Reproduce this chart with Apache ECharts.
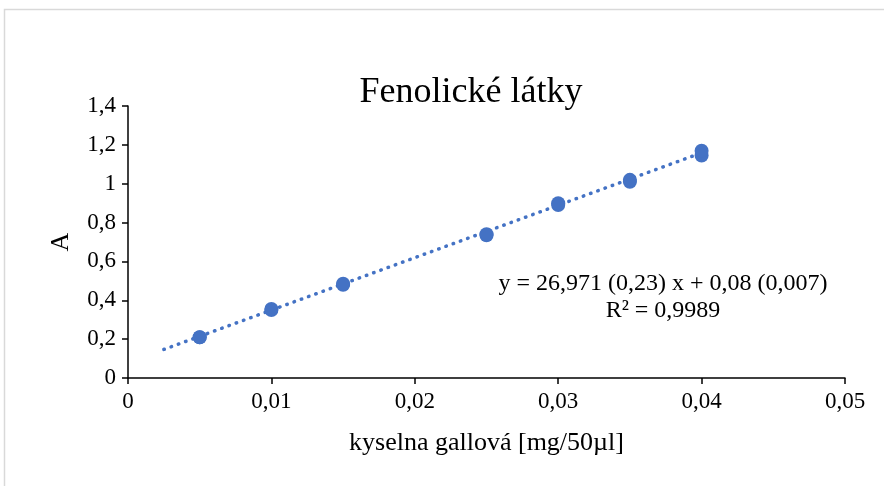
<!DOCTYPE html>
<html>
<head>
<meta charset="utf-8">
<script src="https://cdn.jsdelivr.net/npm/echarts@6/dist/echarts.min.js"></script>
<style>html,body{margin:0;padding:0;background:#fff}#c{width:884px;height:486px}</style>
</head>
<body>
<div id="c"></div>
<script>
// Data
const concentrations = [0.005, 0.005, 0.01, 0.01, 0.015, 0.015, 0.025, 0.025, 0.03, 0.03, 0.035, 0.035, 0.04, 0.04];
const absorbance     = [0.21, 0.21, 0.35, 0.355, 0.48, 0.485, 0.735, 0.74, 0.89, 0.90, 1.01, 1.02, 1.145, 1.17];
const trendX = [0.0025, 0.04];
const trendY = [0.147, 1.159];
const xTicks = [0, 0.01, 0.02, 0.03, 0.04, 0.05];
const yTicks = [0, 0.2, 0.4, 0.6, 0.8, 1, 1.2, 1.4];
const titleText = 'Fenolické látky';
const xName = 'kyselna gallová [mg/50µl]';
const yName = 'A';
const eqLine1 = 'y = 26,971 (0,23) x + 0,08 (0,007)';
const eqLine2 = 'R² = 0,9989';

const FONT = '"Liberation Serif", "Times New Roman", serif';
const BLUE = '#4472C4';
const fmt = v => String(v).replace('.', ',');

const chart = echarts.init(document.getElementById('c'), null, {renderer: 'canvas'});
chart.setOption({
  animation: false,
  backgroundColor: '#fff',
  title: {
    text: titleText, left: 466, top: 70, textAlign: 'center',
    textStyle: {fontFamily: FONT, fontSize: 36, fontWeight: 'normal', color: '#000'}
  },
  grid: {left: 128, right: 39, top: 106, bottom: 108, containLabel: false},
  xAxis: {
    type: 'value', min: 0, max: 0.05, interval: 0.01,
    name: xName, nameLocation: 'middle', nameGap: 52,
    nameTextStyle: {fontFamily: FONT, fontSize: 26, color: '#000'},
    axisLine: {show: true, onZero: false, lineStyle: {color: '#000', width: 1.5}},
    axisTick: {show: true, inside: false, length: 6, lineStyle: {color: '#000', width: 1.5}},
    axisLabel: {fontFamily: FONT, fontSize: 23, color: '#000', margin: 12,
      formatter: v => xTicks.includes(Math.round(v*1000)/1000) ? fmt(Math.round(v*1000)/1000) : ''},
    splitLine: {show: false}
  },
  yAxis: {
    type: 'value', min: 0, max: 1.4, interval: 0.2,
    name: yName, nameLocation: 'middle', nameGap: 54, nameRotate: 90,
    nameTextStyle: {fontFamily: FONT, fontSize: 26, color: '#000'},
    axisLine: {show: true, onZero: false, lineStyle: {color: '#000', width: 1.5}},
    axisTick: {show: true, inside: false, length: 6, lineStyle: {color: '#000', width: 1.5}},
    axisLabel: {fontFamily: FONT, fontSize: 23, color: '#000', margin: 12,
      formatter: v => { const r = Math.round(v*10)/10; return yTicks.includes(r) ? fmt(r) : ''; }},
    splitLine: {show: false}
  },
  series: [
    {
      type: 'line', data: trendX.map((x, i) => [x, trendY[i]]),
      showSymbol: false, symbol: 'none', z: 2,
      lineStyle: {color: BLUE, width: 3.5, type: [0.5, 7.2], cap: 'round'}
    },
    {
      type: 'scatter', data: concentrations.map((x, i) => [x, absorbance[i]]),
      symbol: 'circle', symbolSize: 14, z: 3,
      itemStyle: {color: BLUE, opacity: 1}
    }
  ],
  graphic: [
    {type: 'rect', shape: {x: 4.5, y: 9.5, width: 920, height: 520}, silent: true,
      style: {fill: 'none', stroke: '#d9d9d9', lineWidth: 1.5}},
    {type: 'text', x: 663, y: 284, style: {text: eqLine1, fontFamily: FONT, fontSize: 24,
      fill: '#000', textAlign: 'center', textVerticalAlign: 'middle'}},
    {type: 'text', x: 663, y: 311, style: {text: eqLine2, fontFamily: FONT, fontSize: 24,
      fill: '#000', textAlign: 'center', textVerticalAlign: 'middle'}}
  ]
});
</script>
</body>
</html>
